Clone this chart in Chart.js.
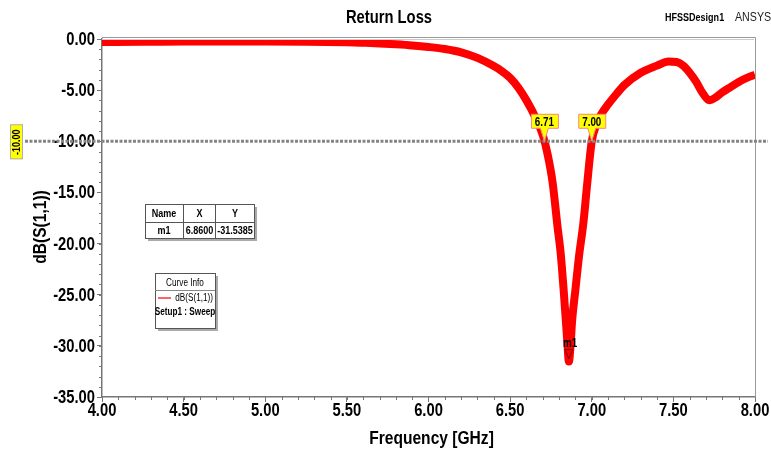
<!DOCTYPE html>
<html>
<head>
<meta charset="utf-8">
<script src="https://cdn.jsdelivr.net/npm/chart.js@4"></script>
<style>
  html, body { margin: 0; padding: 0; background: #fff; }
  #wrap { width: 771px; height: 455px; }
</style>
</head>
<body>
<div id="wrap"><canvas id="chart" width="771" height="455"></canvas></div>
<script>
// frequency sweep in GHz and dB(S(1,1))
const freq = [4.0, 4.25, 4.5, 4.75, 5.0, 5.25, 5.5, 5.6, 5.7, 5.8, 5.9, 6.0, 6.1, 6.2, 6.3, 6.4, 6.45, 6.5, 6.55, 6.6, 6.65,
  6.7, 6.73, 6.76, 6.79, 6.81, 6.83, 6.85, 6.86, 6.87, 6.88, 6.9, 6.92, 6.95, 6.97, 7.0, 7.03, 7.06, 7.1, 7.15, 7.2,
  7.3, 7.4, 7.47, 7.52, 7.56, 7.6, 7.64, 7.68, 7.72, 7.76, 7.8, 7.85, 7.9, 7.95, 8.0];
const s11 = [-0.30, -0.28, -0.25, -0.24, -0.24, -0.26, -0.32, -0.37, -0.43, -0.52, -0.63, -0.78, -0.98, -1.30, -1.85, -2.65, -3.15, -3.8, -4.75, -6.0, -7.5,
  -9.4, -11.3, -14.0, -18.3, -21.0, -25.0, -29.5, -31.54, -30.0, -27.5, -24.5, -21.5, -17.8, -14.5, -10.0, -8.3, -7.3, -6.4, -5.4, -4.5,
  -3.3, -2.6, -2.2, -2.25, -2.6, -3.3, -4.2, -5.3, -6.0, -5.7, -5.2, -4.7, -4.2, -3.8, -3.5];

const refLevel = -10;
const crossings = [6.71, 7.00];
const marker = { name: "m1", x: 6.86, y: -31.5385 };

// no Arial Narrow here, so squeeze Liberation Sans horizontally
const FAMILY = "'Liberation Sans', Arial, sans-serif";
const SQUEEZE = 0.82;

function condText(ctx, text, x, y, font, align, baseline, rot) {
  ctx.save();
  ctx.translate(x, y);
  if (rot) ctx.rotate(rot);
  ctx.scale(SQUEEZE, 1);
  ctx.font = font + " " + FAMILY;
  ctx.textAlign = align || "center";
  ctx.textBaseline = baseline || "middle";
  ctx.fillText(text, 0, 0);
  ctx.restore();
}

function drawBox(ctx, x, y, w, h) {
  ctx.fillStyle = "#aaa";
  ctx.fillRect(x + 3, y + 3, w, h);
  ctx.fillStyle = "#fff";
  ctx.fillRect(x, y, w, h);
  ctx.strokeStyle = "#555";
  ctx.lineWidth = 1;
  ctx.strokeRect(x + 0.5, y + 0.5, w, h);
}

// everything HFSS draws around the curve: labels, frame, minor ticks, markers, tables
const decorations = {
  id: "decorations",
  afterDatasetsDraw(chart) {
    const ctx = chart.ctx;
    const a = chart.chartArea;
    const xs = chart.scales.x;
    const ys = chart.scales.y;
    ctx.save();

    // frame top / right
    ctx.strokeStyle = "#999";
    ctx.lineWidth = 1;
    ctx.beginPath();
    ctx.moveTo(a.left, a.top - 1.5);
    ctx.lineTo(a.right + 0.5, a.top - 1.5);
    ctx.lineTo(a.right + 0.5, a.bottom);
    ctx.stroke();
    ctx.strokeStyle = "#ccc";
    ctx.beginPath();
    ctx.moveTo(a.left, a.top + 0.5);
    ctx.lineTo(a.right - 1, a.top + 0.5);
    ctx.stroke();

    // minor ticks
    ctx.strokeStyle = "#777";
    ctx.lineWidth = 1;
    ctx.beginPath();
    for (let v = 4; v <= 8.001; v += 0.1) {
      const px = Math.round(xs.getPixelForValue(v)) + 0.5;
      ctx.moveTo(px, a.bottom);
      ctx.lineTo(px, a.bottom + 3);
    }
    for (let v = -35; v <= 0; v += 1) {
      const py = Math.round(ys.getPixelForValue(v)) + 0.5;
      ctx.moveTo(a.left - 3, py);
      ctx.lineTo(a.left, py);
    }
    ctx.stroke();

    // tick labels from the library's tick lists
    ctx.fillStyle = "#000";
    xs.ticks.forEach((t) => {
      condText(ctx, t.value.toFixed(2), xs.getPixelForValue(t.value), a.bottom + 14, "bold 18px", "center");
    });
    ys.ticks.forEach((t) => {
      condText(ctx, t.value.toFixed(2), a.left - 7, ys.getPixelForValue(t.value) + 1, "bold 18px", "right");
    });

    // axis titles
    condText(ctx, "Frequency [GHz]", (a.left + a.right) / 2 + 3, 439, "bold 19px", "center");
    condText(ctx, "dB(S(1,1))", 41, 227, "bold 19px", "center", "middle", -Math.PI / 2);

    // -10 dB reference line
    const yRef = ys.getPixelForValue(refLevel);
    ctx.strokeStyle = "#858585";
    ctx.lineWidth = 3;
    ctx.setLineDash([3, 1.5]);
    ctx.beginPath();
    ctx.moveTo(25, yRef);
    ctx.lineTo(768, yRef);
    ctx.stroke();
    ctx.setLineDash([]);

    // rotated -10.00 flag on the left
    ctx.fillStyle = "#ffff00";
    ctx.strokeStyle = "#b0b0b0";
    ctx.lineWidth = 1;
    ctx.fillRect(10, yRef - 17, 13, 35);
    ctx.strokeRect(10.5, yRef - 16.5, 12, 34);
    ctx.fillStyle = "#000";
    condText(ctx, refLevel.toFixed(2), 17, yRef + 1, "bold 11px", "center", "middle", -Math.PI / 2);

    // crossing flags
    crossings.forEach((f) => {
      const px = xs.getPixelForValue(f);
      const bx = px - 13, by = yRef - 27, bw = 27, bh = 14;
      ctx.fillStyle = "#ffff00";
      ctx.strokeStyle = "#f08a80";
      ctx.lineWidth = 1;
      ctx.beginPath();
      ctx.moveTo(bx, by);
      ctx.lineTo(bx + bw, by);
      ctx.lineTo(bx + bw, by + bh);
      ctx.lineTo(px + 4, by + bh);
      ctx.lineTo(px, yRef);
      ctx.lineTo(px - 4, by + bh);
      ctx.lineTo(bx, by + bh);
      ctx.closePath();
      ctx.fill();
      ctx.stroke();
      ctx.fillStyle = "#000";
      condText(ctx, f.toFixed(2), px, by + bh / 2 + 1, "bold 12px", "center");
    });

    // m1 marker
    const mx = xs.getPixelForValue(marker.x);
    const my = ys.getPixelForValue(marker.y);
    ctx.strokeStyle = "#7a0000";
    ctx.lineWidth = 1;
    ctx.beginPath();
    ctx.moveTo(mx - 4, my - 12);
    ctx.lineTo(mx + 4, my - 12);
    ctx.lineTo(mx, my - 3);
    ctx.closePath();
    ctx.stroke();
    ctx.fillStyle = "#000";
    condText(ctx, marker.name, mx - 6, my - 15, "bold 12px", "left", "alphabetic");

    // marker table
    drawBox(ctx, 145, 204, 109, 34);
    ctx.strokeStyle = "#555";
    ctx.lineWidth = 1;
    ctx.beginPath();
    ctx.moveTo(145, 222.5); ctx.lineTo(254, 222.5);
    ctx.moveTo(183.5, 204); ctx.lineTo(183.5, 238);
    ctx.moveTo(215.5, 204); ctx.lineTo(215.5, 238);
    ctx.stroke();
    ctx.fillStyle = "#000";
    condText(ctx, "Name", 164, 214, "bold 11px");
    condText(ctx, "X", 199.5, 214, "bold 11px");
    condText(ctx, "Y", 235, 214, "bold 11px");
    condText(ctx, marker.name, 164, 231, "bold 11px");
    condText(ctx, marker.x.toFixed(4), 199.5, 231, "bold 11px");
    condText(ctx, marker.y.toFixed(4), 235, 231, "bold 11px");

    // curve info box
    drawBox(ctx, 155, 273, 60, 55);
    ctx.strokeStyle = "#888";
    ctx.beginPath();
    ctx.moveTo(155, 290.5); ctx.lineTo(215, 290.5);
    ctx.stroke();
    ctx.fillStyle = "#000";
    condText(ctx, "Curve Info", 185, 283, "10px");
    ctx.strokeStyle = "#ff3030";
    ctx.lineWidth = 1.5;
    ctx.beginPath();
    ctx.moveTo(158, 298); ctx.lineTo(171, 298);
    ctx.stroke();
    ctx.fillStyle = "#000";
    condText(ctx, "dB(S(1,1))", 213, 298, "10px", "right");
    condText(ctx, "Setup1 : Sweep", 185, 312, "bold 10px");

    // headings
    condText(ctx, "Return Loss", 389, 18, "bold 18px");
    condText(ctx, "HFSSDesign1", 665, 18, "bold 11px", "left");
    ctx.fillStyle = "#222";
    condText(ctx, "ANSYS", 735, 17, "13px", "left");

    ctx.restore();
  }
};

const points = freq.map((f, i) => ({ x: f, y: s11[i] }));

new Chart(document.getElementById("chart"), {
  type: "line",
  data: {
    datasets: [{
      label: "dB(S(1,1))",
      data: points,
      borderColor: "#ff0000",
      borderWidth: 8,
      borderJoinStyle: "round",
      borderCapStyle: "butt",
      pointRadius: 0,
      cubicInterpolationMode: "monotone",
      fill: false
    }]
  },
  options: {
    responsive: false,
    animation: false,
    layout: { padding: { left: 0, right: 16, top: 39, bottom: 0 } },
    plugins: {
      legend: { display: false },
      tooltip: { enabled: false }
    },
    scales: {
      x: {
        type: "linear",
        min: 4,
        max: 8,
        afterFit: (s) => { s.height = 58; },
        ticks: { stepSize: 0.5, display: false },
        grid: { drawOnChartArea: false, tickLength: 5, color: "#777" },
        border: { color: "#777", width: 1.5 }
      },
      y: {
        min: -35,
        max: 0,
        afterFit: (s) => { s.width = 102; },
        ticks: { stepSize: 5, display: false },
        grid: { drawOnChartArea: false, tickLength: 5, color: "#777" },
        border: { color: "#777", width: 1.5 }
      }
    }
  },
  plugins: [decorations]
});
</script>
</body>
</html>
